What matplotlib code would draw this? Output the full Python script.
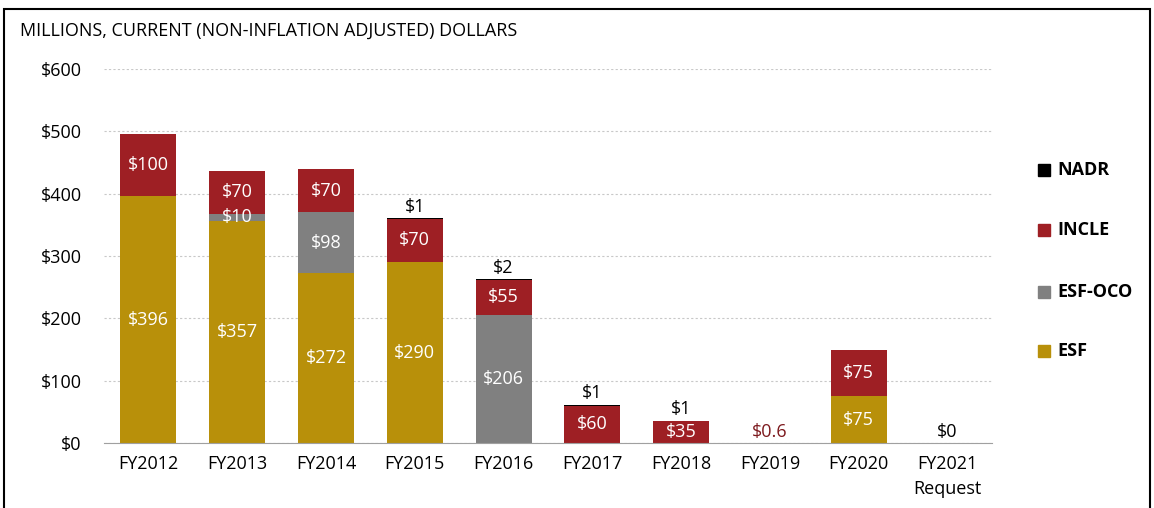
import numpy as np
import matplotlib.pyplot as plt
from matplotlib.patches import Rectangle

plt.rcParams['font.family'] = ['Open Sans', 'DejaVu Sans']

years = ['FY2012', 'FY2013', 'FY2014', 'FY2015', 'FY2016', 'FY2017',
         'FY2018', 'FY2019', 'FY2020', 'FY2021\nRequest']
esf = [396, 357, 272, 290, 0, 0, 0, 0, 75, 0]
esf_oco = [0, 10, 98, 0, 206, 0, 0, 0, 0, 0]
incle = [100, 70, 70, 70, 55, 60, 35, 0.6, 75, 0]
nadr = [0, 0, 0, 1, 2, 1, 1, 0, 0, 0]

c_esf = '#b8900a'
c_oco = '#808080'
c_incle = '#9e1f24'
c_nadr = '#000000'

fig = plt.figure(figsize=(11.54, 5.08), dpi=100)
ax = fig.add_axes([0.0901, 0.128, 0.7695, 0.736])

x = np.arange(len(years))
w = 0.63
esf = np.array(esf, dtype=float)
esf_oco = np.array(esf_oco, dtype=float)
incle = np.array(incle, dtype=float)
nadr = np.array(nadr, dtype=float)

ax.bar(x, esf, w, color=c_esf, zorder=3)
ax.bar(x, esf_oco, w, bottom=esf, color=c_oco, zorder=3)
ax.bar(x, incle, w, bottom=esf + esf_oco, color=c_incle, zorder=3)
ax.bar(x, nadr, w, bottom=esf + esf_oco + incle, color=c_nadr, zorder=3)

fs = 13
# labels inside segments
for series, bottom in [(esf, 0), (esf_oco, esf), (incle, esf + esf_oco)]:
    bottom = np.zeros(len(x)) + bottom
    for i, v in enumerate(series):
        if v >= 5:
            ax.text(x[i], bottom[i] + v / 2, f'${v:g}', ha='center', va='center',
                    color='white', fontsize=fs, zorder=4)

total = esf + esf_oco + incle + nadr
for i, v in enumerate(nadr):
    if v > 0:
        ax.text(x[i], total[i] + 4, f'${v:g}', ha='center', va='bottom',
                color='black', fontsize=fs, zorder=4)

# tiny INCLE value in FY2019 and zero request
ax.text(x[7], 3, f'${incle[7]:g}', ha='center', va='bottom', color='#7d1a1e', fontsize=fs)
ax.text(x[9], 3, '$0', ha='center', va='bottom', color='black', fontsize=fs)

ax.set_xlim(-0.5, len(years) - 0.5)
ax.set_ylim(0, 600)
ax.set_yticks(np.arange(0, 601, 100))
ax.set_yticklabels([f'${v}' for v in range(0, 601, 100)], fontsize=fs)
ax.set_xticks(x)
ax.set_xticklabels(years, fontsize=fs, linespacing=1.45)
ax.tick_params(length=0)
ax.tick_params(axis='y', pad=16)
ax.tick_params(axis='x', pad=9)
ax.yaxis.grid(True, linestyle=(0, (2, 2)), color='#c8c8c8', linewidth=0.8, zorder=0)
for s in ['top', 'right', 'left']:
    ax.spines[s].set_visible(False)
ax.spines['bottom'].set_color('#a0a0a0')
ax.spines['bottom'].set_zorder(5)

fig.text(20 / 1154, 1 - 31 / 508, 'MILLIONS, CURRENT (NON-INFLATION ADJUSTED) DOLLARS',
         fontsize=fs, va='center', ha='left')

# legend
leg_items = [('NADR', c_nadr, 170), ('INCLE', c_incle, 230),
             ('ESF-OCO', c_oco, 292), ('ESF', c_esf, 351)]
for name, col, yp in leg_items:
    fig.patches.append(Rectangle((1038 / 1154, 1 - (yp + 6) / 508), 12 / 1154, 12 / 508,
                                 transform=fig.transFigure, color=col))
    fig.text(1057 / 1154, 1 - yp / 508, name, fontsize=fs, fontweight='bold',
             va='center', ha='left')

# outer frame
fig.patches.append(Rectangle((4 / 1154, -0.01), 1146 / 1154, 1 - 9 / 508 + 0.01,
                             transform=fig.transFigure, fill=False,
                             edgecolor='black', linewidth=1.5))

fig.savefig('out.png', dpi=100)
